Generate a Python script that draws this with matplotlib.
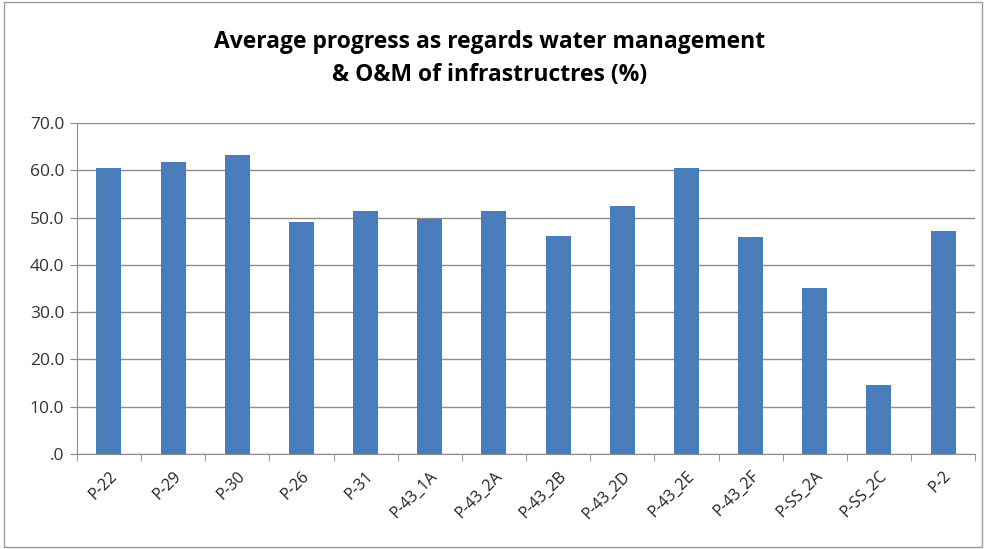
import matplotlib
matplotlib.use('Agg')
import matplotlib.pyplot as plt
import numpy as np

# site labels and average progress values (%)
sites = ['P-22', 'P-29', 'P-30', 'P-26', 'P-31', 'P-43_1A', 'P-43_2A', 'P-43_2B',
         'P-43_2D', 'P-43_2E', 'P-43_2F', 'P-SS_2A', 'P-SS_2C', 'P-2']
progress = [60.4, 61.7, 63.2, 49.0, 51.4, 49.7, 51.4, 46.1,
            52.5, 60.4, 45.9, 35.1, 14.6, 47.2]
yticks = [0, 10, 20, 30, 40, 50, 60, 70]
ytick_labels = ['.0', '10.0', '20.0', '30.0', '40.0', '50.0', '60.0', '70.0']

matplotlib.rcParams['font.family'] = ['Open Sans', 'DejaVu Sans']

fig = plt.figure(figsize=(9.86, 5.49), dpi=100)
ax = fig.add_axes([0.078, 0.173, 0.911, 0.603])

x = np.arange(len(sites))
ax.bar(x, progress, width=0.39, color='#4a7ebb', zorder=3)

ax.set_xlim(-0.5, len(sites) - 0.5)
ax.set_ylim(0, 70)
ax.set_yticks(yticks)
ax.set_yticklabels(ytick_labels, fontsize=12.5, color='#333333')
ax.set_xticks(x)
ax.set_xticklabels(sites, rotation=45, ha='right', rotation_mode='anchor',
                   fontsize=11.5, color='#222222')
ax.tick_params(axis='x', length=0, pad=10)
ax.set_xticks(np.arange(-0.5, len(sites)), minor=True)
ax.tick_params(axis='x', which='minor', length=5, color='#888888')
ax.tick_params(axis='y', length=5, color='#888888', pad=4)

ax.grid(axis='y', color='#8c8c8c', linewidth=1, zorder=0)
for s in ['top', 'right']:
    ax.spines[s].set_visible(False)
for s in ['left', 'bottom']:
    ax.spines[s].set_color('#8c8c8c')

fig.text(0.497, 0.894, 'Average progress as regards water management\n& O&M of infrastructres (%)',
         ha='center', va='center', fontsize=16.5, fontweight='bold', linespacing=1.5)

# outer chart border
fig.patches.append(plt.Rectangle((0.004, 0.004), 0.992, 0.992, transform=fig.transFigure,
                                 fill=False, edgecolor='#999999', linewidth=1))

fig.savefig('out.png', dpi=100)
